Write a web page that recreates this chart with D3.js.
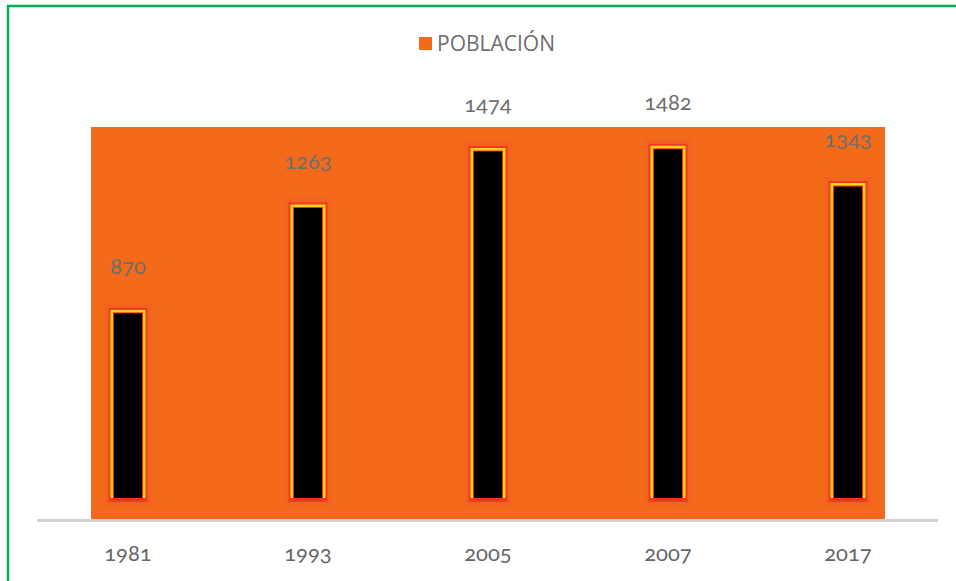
<!DOCTYPE html>
<html>
<head>
<meta charset="utf-8">
<script src="https://cdn.jsdelivr.net/npm/d3@7"></script>
<style>
  body { margin: 0; background: #fff; }
  svg text { font-family: Lato, "Open Sans", sans-serif; }
  .num { font-feature-settings: "onum" 1; font-variant-numeric: oldstyle-nums; }
</style>
</head>
<body>
<svg id="chart" width="956" height="581"></svg>
<script>
// POBLACIÓN por año
const years = ["1981", "1993", "2005", "2007", "2017"];
const poblacion = [870, 1263, 1474, 1482, 1343];
const seriesName = "POBLACIÓN";

const svg = d3.select("#chart");
const W = 956, H = 581;

// green frame
svg.append("rect")
  .attr("x", 8).attr("y", 6)
  .attr("width", W + 10).attr("height", H + 10)
  .attr("fill", "none").attr("stroke", "#00b050").attr("stroke-width", 2.5);

let x = d3.scaleBand().domain(years).range([38, 938]);
let y = d3.scaleLinear().domain([0, 1500]).range([543, 141]);
const barBottom = 500;
const barW = 35;

// orange plot area
svg.append("rect")
  .attr("x", 91).attr("y", 127)
  .attr("width", 885 - 91).attr("height", 519 - 127)
  .attr("fill", "#f26a1a");

// axis line
svg.append("line")
  .attr("x1", 37).attr("x2", 938)
  .attr("y1", 520.5).attr("y2", 520.5)
  .attr("stroke", "#d0d0d0").attr("stroke-width", 3);

const data = years.map((yr, i) => ({year: yr, value: poblacion[i]}));

const bars = svg.append("g").selectAll("g").data(data).join("g")
  .attr("transform", d => `translate(${x(d.year) + x.bandwidth() / 2},0)`);

// soft glow
bars.append("rect")
  .attr("x", -barW / 2 - 6).attr("y", d => y(d.value) - 6)
  .attr("width", barW + 12).attr("height", d => barBottom - y(d.value) + 12)
  .attr("fill", "#f5502a").attr("opacity", 0.3);
bars.append("rect")
  .attr("x", -barW / 2 - 2).attr("y", d => y(d.value) - 2)
  .attr("width", barW + 4).attr("height", d => barBottom - y(d.value) + 4)
  .attr("fill", "#ee3a1e");
// yellow ring
bars.append("rect")
  .attr("x", -barW / 2).attr("y", d => y(d.value))
  .attr("width", barW).attr("height", d => barBottom - y(d.value) - 2)
  .attr("fill", "#ffd21a");
bars.append("rect")
  .attr("x", -barW / 2 + 2.5).attr("y", d => y(d.value) + 2.5)
  .attr("width", barW - 5).attr("height", d => barBottom - y(d.value) - 2.5)
  .attr("fill", "#ff2a10");
bars.append("rect")
  .attr("x", -barW / 2 + 3.5).attr("y", d => y(d.value) + 3.5)
  .attr("width", barW - 7).attr("height", d => barBottom - y(d.value) - 5.5)
  .attr("fill", "#000");

// value labels
bars.append("text")
  .attr("class", "num")
  .attr("y", d => y(d.value) - 36)
  .attr("text-anchor", "middle")
  .attr("font-size", 22)
  .attr("fill", "#6e6e6e")
  .text(d => d.value);

// x labels
svg.append("g").selectAll("text").data(years).join("text")
  .attr("class", "num")
  .attr("x", d => x(d) + x.bandwidth() / 2)
  .attr("y", 561)
  .attr("text-anchor", "middle")
  .attr("font-size", 22)
  .attr("fill", "#666")
  .text(d => d);

// legend
const lg = svg.append("g");
lg.append("rect").attr("x", 419).attr("y", 37).attr("width", 13).attr("height", 13).attr("fill", "#f26a1a");
lg.append("text").attr("x", 437).attr("y", 51)
  .attr("font-size", 21).attr("fill", "#6e6e6e")
  .style("font-family", "'Open Sans', sans-serif")
  .text(seriesName);
</script>
</body>
</html>
